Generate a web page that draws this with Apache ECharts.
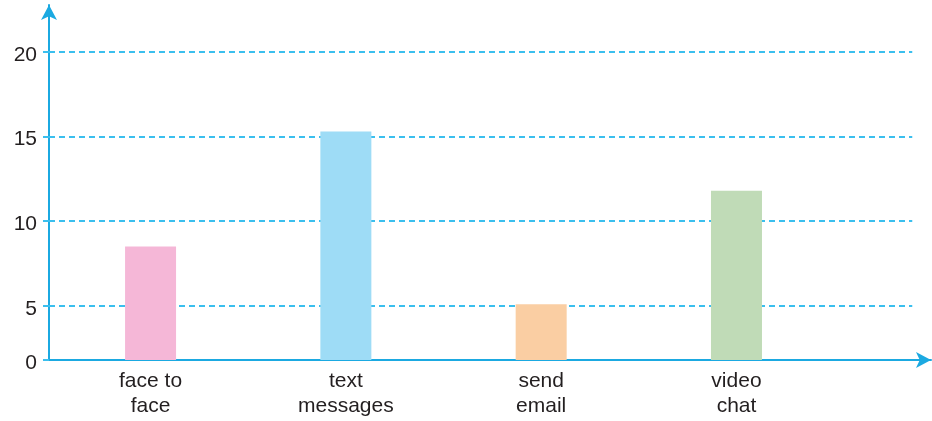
<!DOCTYPE html>
<html>
<head>
<meta charset="utf-8">
<script src="https://cdn.jsdelivr.net/npm/echarts@6/dist/echarts.min.js"></script>
<style>html,body{margin:0;padding:0;background:#fff}#c{width:932px;height:421px}</style>
</head>
<body>
<div id="c"></div>
<script>
const categories = ['face to\nface', 'text\nmessages', 'send\nemail', 'video\nchat'];
const values = [8.5, 15.3, 5.1, 11.8];
const barColors = ['#f5b7d7', '#9edcf6', '#facea3', '#c0dbb7'];
const yTicks = [5, 10, 15, 20];
const yBase = 1.8;   // axis is broken: bottom of the drawn axis, labelled "0"
const yTop = 22.77;
const xMin = -0.52, xMax = 3.996, gridEnd = 3.9;

const chart = echarts.init(document.getElementById('c'), null, {renderer: 'canvas'});
const axisColor = '#1ba9e1';
const gridColor = '#3bbfee';
const textColor = '#231f20';
const font = 'Liberation Sans, Arial, sans-serif';

chart.setOption({
  animation: false,
  grid: {left: 49, right: 1, top: 5, bottom: 61, containLabel: false},
  xAxis: {
    type: 'value',
    min: xMin,
    max: xMax,
    axisLine: {show: true, onZero: false, lineStyle: {color: axisColor, width: 2}, symbol: ['none', 'arrow'], symbolSize: [12, 15]},
    axisTick: {show: false},
    splitLine: {show: false},
    axisLabel: {
      customValues: categories.map((c, i) => i),
      formatter: v => categories[Math.round(v)] || '',
      color: textColor, fontSize: 21, fontFamily: font, lineHeight: 25, margin: 9
    }
  },
  yAxis: {
    type: 'value',
    min: yBase,
    max: yTop,
    axisLine: {show: true, onZero: false, lineStyle: {color: axisColor, width: 2}, symbol: ['none', 'arrow'], symbolSize: [12, 15]},
    axisTick: {show: true, length: 6, customValues: [yBase].concat(yTicks), lineStyle: {color: gridColor, width: 2}},
    splitLine: {show: false},
    axisLabel: {
      customValues: [yBase].concat(yTicks),
      formatter: v => (Math.abs(v - yBase) < 1e-6 ? '0' : String(v)),
      color: textColor, fontSize: 21, fontFamily: font, margin: 12,
      verticalAlign: 'top', lineHeight: 6
    }
  },
  series: [{
    type: 'bar',
    barWidth: 51,
    z: 3,
    data: values.map((v, i) => ({value: [i, v], itemStyle: {color: barColors[i]}})),
    markLine: {
      silent: true,
      symbol: ['none', 'none'],
      label: {show: false},
      z: 2,
      lineStyle: {color: gridColor, width: 2, type: [6, 4]},
      data: yTicks.map(t => [{coord: [xMin, t]}, {coord: [gridEnd, t]}])
    }
  }]
});
</script>
</body>
</html>
